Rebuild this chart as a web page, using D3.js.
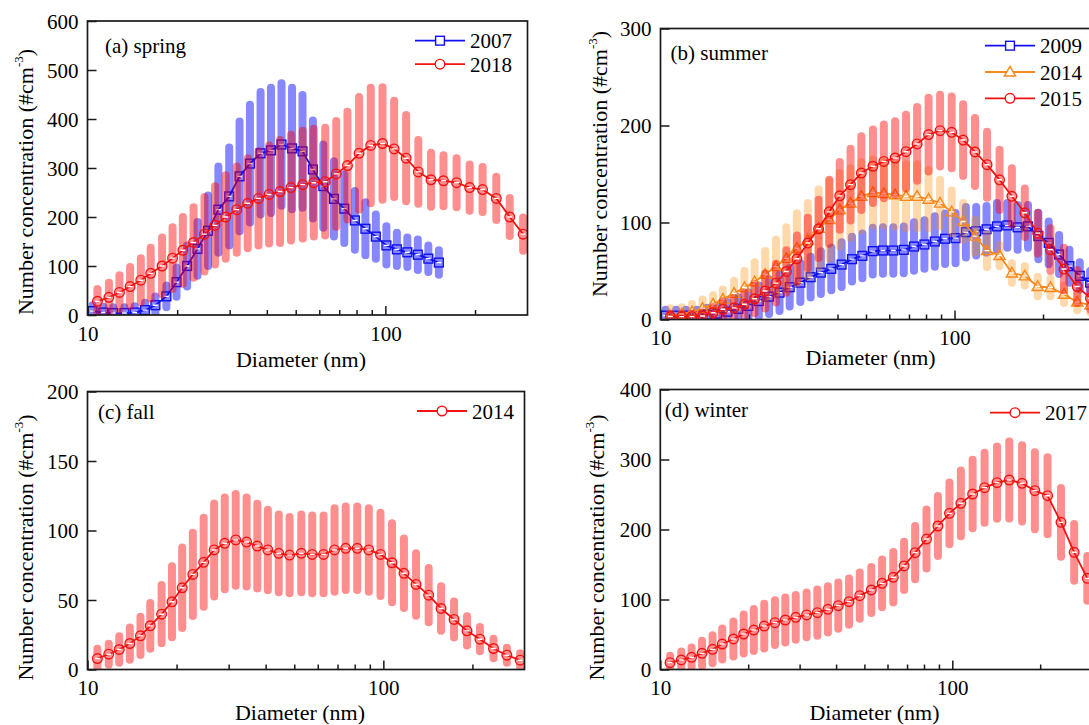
<!DOCTYPE html>
<html>
<head>
<meta charset="utf-8">
<script src="https://cdn.jsdelivr.net/npm/d3@7"></script>
<style>
  body { margin: 0; background: #fff; }
  svg { display: block; }
  text { font-family: "Liberation Serif", "Times New Roman", serif; fill: #000; }
</style>
</head>
<body>
<svg id="chart" width="1089" height="725"></svg>
<script>
// ---- Size grids (nm) ----
const diameters = [10.8, 11.8, 12.8, 13.9, 15.1, 16.3, 17.8, 19.3, 20.9, 22.7, 24.7, 26.8, 29.1, 31.7,
  34.5, 37.5, 40.7, 44.3, 48.2, 52.8, 57.5, 62.8, 68.4, 74.6, 81.6, 89.3, 97.8, 107.0, 117.4, 129.0,
  142.3, 156.7, 173.4, 191.8, 212.0, 235.7, 261.5, 290.0];
const diametersSmps = [10.4, 11.3, 12.2, 13.3, 14.4, 15.6, 16.9, 18.4, 19.9, 21.6, 23.4, 25.4, 27.5,
  29.9, 32.4, 35.1, 38.1, 41.3, 44.8, 48.6, 52.7, 57.1, 61.9, 67.2, 72.8, 79.0, 85.7, 92.9, 100.8,
  109.3, 118.5, 128.5, 139.4, 151.2, 163.9, 177.8, 192.8, 209.1, 226.8, 245.9, 266.7, 289.2];

// ---- Spring ----
const spring2007Mean = [8, 5, 4, 4, 5, 10, 20, 38, 67, 100, 135, 172, 215, 242, 283, 309, 330, 336, 348,
  340, 334, 297, 263, 237, 217, 193, 176, 160, 142, 134, 128, 123, 115, 107];
const spring2007Sd = [12, 12, 12, 12, 13, 15, 18, 22, 30, 42, 55, 72, 88, 100, 112, 120, 125, 128, 125,
  124, 115, 100, 85, 77, 70, 60, 54, 45, 39, 34, 30, 31, 27, 25];
const spring2018Mean = [28, 36, 46, 58, 71, 85, 100, 116, 132, 148, 165, 183, 200, 215, 228, 238, 246,
  252, 260, 266, 270, 272, 288, 305, 330, 346, 350, 339, 320, 292, 276, 274, 270, 260, 256, 238, 200, 165];
const spring2018Sd = [25, 30, 35, 40, 45, 52, 58, 63, 68, 72, 76, 80, 85, 88, 92, 96, 100, 105, 108,
  110, 110, 110, 108, 110, 115, 118, 115, 98, 88, 65, 55, 52, 50, 47, 46, 44, 39, 34];

// ---- Summer ----
const summer2009Mean = [4, 4, 4, 4, 5, 6, 8, 11, 14, 19, 23.6, 27.7, 33.3, 38, 43.6, 48.3, 52.2, 56.6,
  62.2, 65.6, 70.5, 71.1, 71.1, 71.8, 75.2, 77.3, 80.4, 83.2, 83.9, 90, 91, 93, 96, 97, 95, 96, 86, 79,
  67, 55, 45, 38];
const summer2009Sd = [6, 6, 6, 6, 7, 8, 10, 12, 14, 16, 18, 19, 20, 20, 21, 22, 22, 23, 23, 23, 24, 24,
  24, 24, 25, 25, 26, 26, 26, 26, 25, 24, 24, 23, 23, 22, 24, 22, 20, 17, 14, 12];
const summer2014Mean = [3.6, 5.7, 8, 11.5, 16, 21, 27, 33, 39, 46.7, 54.5, 63, 73.5, 82, 94, 103, 113,
  120, 127, 131, 130, 128.6, 127, 127, 124, 120, 111, 101, 86, 71, 66, 48, 45, 34, 33, 26, 18, 15];
const summer2014Sd = [8, 7, 8, 9, 9, 10, 13, 17, 20, 24, 28, 32, 36, 38, 40, 40, 38, 36, 35, 34, 33, 33,
  33, 33, 30, 24, 22, 19, 17, 17, 11, 10, 10, 10, 9, 9, 8.5, 8];
const summer2015Mean = [3, 3, 3, 3.6, 7, 10.5, 12, 15.7, 21.4, 29.4, 37.5, 49.5, 62.6, 78.8, 93.5, 111,
  127.5, 139, 151, 158, 163, 166.5, 173, 181, 190.6, 194.7, 193, 185, 172.7, 159.6, 144, 127, 110, 89, 72,
  52, 34, 22];
const summer2015Sd = [3, 3, 3, 4, 6, 8, 10, 12, 15, 18, 20, 22, 24, 26, 30, 33, 35, 37, 38, 38, 38, 38,
  38, 38, 38, 37, 37, 37, 35, 34, 31, 29, 25, 21, 22, 22, 17, 12];

// ---- Fall ----
const fall2014Mean = [7.9, 11, 14.4, 18.7, 24.2, 31.4, 39.8, 48.7, 58.8, 68.4, 77.1, 86, 90.8, 93.2,
  91.7, 88.8, 86, 83.6, 82.3, 83.6, 82.8, 82.8, 86, 87.2, 87.2, 86, 82.8, 76.8, 69.2, 61.2, 53.5, 43.9,
  36, 27.8, 21.8, 15.1, 10.3, 6.7];
const fall2014Sd = [7, 7.5, 9.6, 11.6, 13.8, 16.5, 21, 25.5, 29, 30, 32, 33.5, 33, 33, 32, 30.5, 29, 28,
  27.5, 28, 28, 28, 30, 30, 30, 30, 30, 28.5, 25, 22.5, 19.5, 16, 13, 10.5, 8.7, 7, 5.4, 5];

// ---- Winter ----
const winter2017Mean = [9.8, 13.6, 17.4, 23.1, 28.8, 36.4, 43.6, 50.7, 56.4, 62.1, 66.9, 70.7, 74.5,
  77.9, 81.2, 86, 91.2, 96.9, 105.5, 113.6, 123.1, 131.7, 147.9, 166.9, 186.4, 205, 223.1, 237.4, 250.7,
  259.8, 266.9, 270.7, 266, 255.5, 248.3, 210.2, 167.4, 130.2];
const winter2017Sd = [10, 12, 14, 18, 20, 22, 25, 28, 30, 32, 32, 32, 32, 32, 33, 33, 33, 33, 33, 33, 34,
  36, 34.5, 38, 42, 43, 44, 47, 49, 50, 51.5, 55, 54.5, 55, 55, 49, 40.5, 32];

// ---- Axis ticks ----
const yTicksSpring = [0, 100, 200, 300, 400, 500, 600];
const yTicksSummer = [0, 100, 200, 300];
const yTicksFall = [0, 50, 100, 150, 200];
const yTicksWinter = [0, 100, 200, 300, 400];
const xMajorTicks = [10, 100];
const xMinorTicks = [20, 30, 40, 50, 60, 70, 80, 90, 200];

// ---- Styling ----
const BLUE = "#1010f0", RED = "#f21212", ORANGE = "#f7891c";
const BAR_BLUE = "rgba(0,0,255,0.47)", BAR_RED = "rgba(255,0,0,0.44)", BAR_ORANGE = "rgba(255,140,0,0.33)";
const FONT = 21;

const panels = [
  { key: "a", title: "(a) spring", yMax: 600, yTicks: yTicksSpring,
    box: { left: 87.5, right: 527.5, top: 21, bottom: 315 },
    titlePos: [105, 52.5], legendPos: [415, 40.7], legendStep: 23.5,
    xTitle: [301, 367], yTitle: [33, 182],
    series: [
      { name: "2007", d: diametersSmps, mean: spring2007Mean, sd: spring2007Sd, color: BLUE, bar: BAR_BLUE, marker: "square" },
      { name: "2018", d: diameters, mean: spring2018Mean, sd: spring2018Sd, color: RED, bar: BAR_RED, marker: "circle" } ] },
  { key: "b", title: "(b) summer", yMax: 300, yTicks: yTicksSummer,
    box: { left: 660.5, right: 1094.8, top: 28.5, bottom: 319.5 },
    titlePos: [670.5, 60], legendPos: [985, 45.7], legendStep: 26.3,
    xTitle: [870.6, 365], yTitle: [607, 164],
    series: [
      { name: "2009", d: diametersSmps, mean: summer2009Mean, sd: summer2009Sd, color: BLUE, bar: BAR_BLUE, marker: "square" },
      { name: "2014", d: diameters, mean: summer2014Mean, sd: summer2014Sd, color: ORANGE, bar: BAR_ORANGE, marker: "triangle" },
      { name: "2015", d: diameters, mean: summer2015Mean, sd: summer2015Sd, color: RED, bar: BAR_RED, marker: "circle" } ] },
  { key: "c", title: "(c) fall", yMax: 200, yTicks: yTicksFall,
    box: { left: 87.5, right: 524.5, top: 391.5, bottom: 669.5 },
    titlePos: [98, 419], legendPos: [417, 411], legendStep: 24,
    xTitle: [300, 720], yTitle: [33, 547.5],
    series: [
      { name: "2014", d: diameters, mean: fall2014Mean, sd: fall2014Sd, color: RED, bar: BAR_RED, marker: "circle" } ] },
  { key: "d", title: "(d) winter", yMax: 400, yTicks: yTicksWinter,
    box: { left: 660.3, right: 1091.6, top: 389.5, bottom: 669.5 },
    titlePos: [664.7, 417], legendPos: [990, 412.7], legendStep: 24,
    xTitle: [874.5, 720], yTitle: [604, 547.5],
    series: [
      { name: "2017", d: diameters, mean: winter2017Mean, sd: winter2017Sd, color: RED, bar: BAR_RED, marker: "circle" } ] }
];

const svg = d3.select("#chart");

function drawMarker(g, type, cx, cy, color, fill) {
  if (type === "circle") {
    g.append("circle").attr("cx", cx).attr("cy", cy).attr("r", 4.8)
      .attr("fill", fill).attr("stroke", color).attr("stroke-width", 1.4);
  } else if (type === "square") {
    g.append("rect").attr("x", cx - 4.4).attr("y", cy - 4.4).attr("width", 8.8).attr("height", 8.8)
      .attr("fill", fill).attr("stroke", color).attr("stroke-width", 1.4);
  } else {
    const s = 5.6;
    g.append("path")
      .attr("d", `M${cx},${cy - s}L${cx + s},${cy + s * 0.72}L${cx - s},${cy + s * 0.72}Z`)
      .attr("fill", fill).attr("stroke", color).attr("stroke-width", 1.4);
  }
}

panels.forEach(p => {
  const b = p.box;
  const x = d3.scaleLog().domain([10, 300]).range([b.left, b.right]);
  const y = d3.scaleLinear().domain([0, p.yMax]).range([b.bottom, b.top]);
  const g = svg.append("g").attr("class", "panel-" + p.key);

  const clipId = "clip-" + p.key;
  svg.append("clipPath").attr("id", clipId)
    .append("rect").attr("x", b.left).attr("y", b.top)
    .attr("width", b.right - b.left).attr("height", b.bottom - b.top);

  const plot = g.append("g").attr("clip-path", `url(#${clipId})`);

  p.series.forEach(s => {
    const pts = s.mean.map((m, i) => ({ d: s.d[i], m, sd: s.sd[i] }));
    const sg = plot.append("g");
    // spread bars
    sg.selectAll("line.bar").data(pts).join("line").attr("class", "bar")
      .attr("x1", q => x(q.d)).attr("x2", q => x(q.d))
      .attr("y1", q => y(q.m - q.sd)).attr("y2", q => y(q.m + q.sd))
      .attr("stroke", s.bar).attr("stroke-width", 8).attr("stroke-linecap", "round");
    // mean curve
    sg.append("path").datum(pts)
      .attr("d", d3.line().x(q => x(q.d)).y(q => y(q.m)))
      .attr("fill", "none").attr("stroke", s.color).attr("stroke-width", 1.8);
    // markers
    const mg = sg.append("g");
    pts.forEach(q => {
      drawMarker(mg, s.marker, x(q.d), y(q.m), s.color, "none");
      mg.append("line").attr("x1", x(q.d) - 2.4).attr("x2", x(q.d) + 2.4)
        .attr("y1", y(q.m)).attr("y2", y(q.m))
        .attr("stroke", "#fff").attr("stroke-width", 1.4);
    });
  });

  // frame
  g.append("rect").attr("x", b.left).attr("y", b.top)
    .attr("width", b.right - b.left).attr("height", b.bottom - b.top)
    .attr("fill", "none").attr("stroke", "#1a1a1a").attr("stroke-width", 1.7);

  // x axis: major ticks with labels, minor ticks without
  const xMaj = g.append("g").attr("transform", `translate(0,${b.bottom})`)
    .call(d3.axisBottom(x).tickValues(xMajorTicks).tickSize(-9).tickPadding(11).tickFormat(d3.format("d")));
  const xMin = g.append("g").attr("transform", `translate(0,${b.bottom})`)
    .call(d3.axisBottom(x).tickValues(xMinorTicks).tickSize(-5).tickFormat(""));
  const yAx = g.append("g").attr("transform", `translate(${b.left},0)`)
    .call(d3.axisLeft(y).tickValues(p.yTicks).tickSize(-9).tickPadding(9).tickFormat(d3.format("d")));

  [xMaj, xMin, yAx].forEach(a => {
    a.select(".domain").remove();
    a.attr("font-family", null).attr("font-size", null);
    a.selectAll(".tick line").attr("stroke", "#1a1a1a").attr("stroke-width", 1.5);
    a.selectAll(".tick text").attr("font-size", FONT).attr("fill", "#000");
  });
  yAx.selectAll(".tick text").attr("dy", "0.34em");

  // axis titles
  g.append("text").attr("x", p.xTitle[0]).attr("y", p.xTitle[1])
    .attr("text-anchor", "middle").attr("font-size", 22).text("Diameter (nm)");
  const yt = g.append("text")
    .attr("transform", `translate(${p.yTitle[0]},${p.yTitle[1]}) rotate(-90)`)
    .attr("text-anchor", "middle").attr("font-size", 22);
  yt.append("tspan").text("Number concentration (#cm");
  yt.append("tspan").attr("font-size", 13).attr("dy", -10).text("-3");
  yt.append("tspan").attr("dy", 10).text(")");

  // panel title
  g.append("text").attr("x", p.titlePos[0]).attr("y", p.titlePos[1])
    .attr("font-size", FONT).text(p.title);

  // legend
  p.series.forEach((s, i) => {
    const lx = p.legendPos[0], ly = p.legendPos[1] + i * p.legendStep;
    const lg = g.append("g");
    lg.append("line").attr("x1", lx).attr("x2", lx + 50).attr("y1", ly).attr("y2", ly)
      .attr("stroke", s.color).attr("stroke-width", 1.8);
    drawMarker(lg, s.marker, lx + 25, ly, s.color, "#fff");
    lg.append("text").attr("x", lx + 55).attr("y", ly + 7.5).attr("font-size", FONT).text(s.name);
  });
});
</script>
</body>
</html>
